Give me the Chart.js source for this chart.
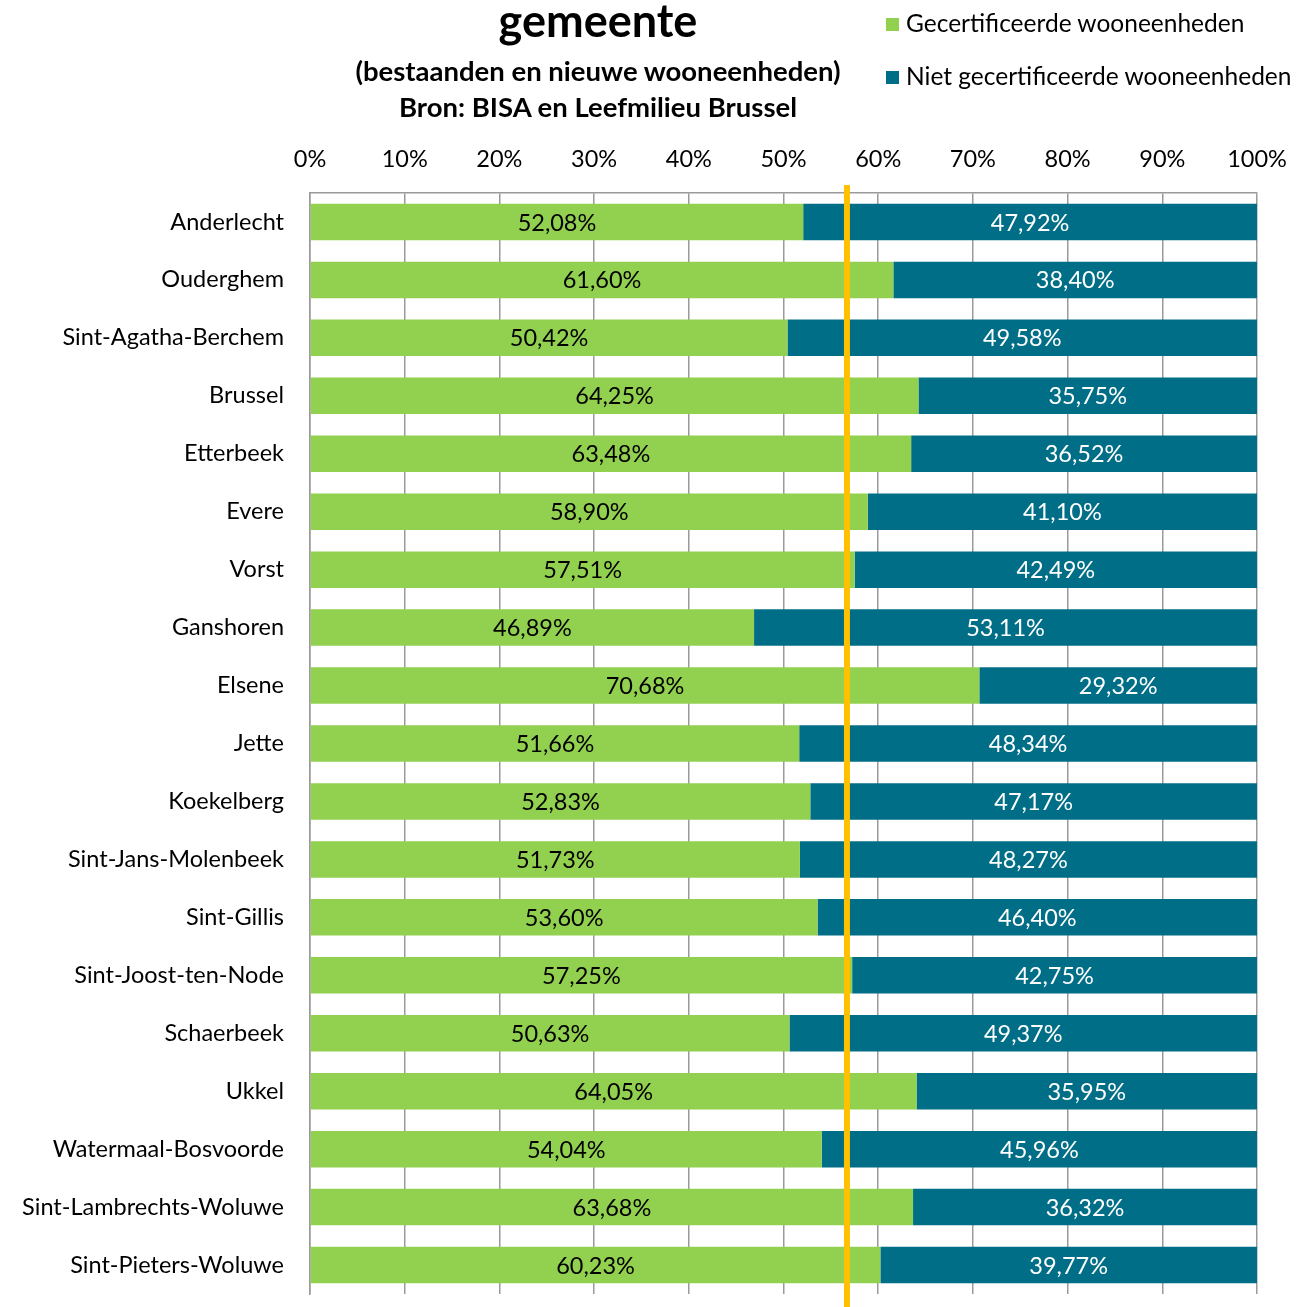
<!DOCTYPE html>
<html>
<head>
<meta charset="utf-8">
<script src="https://cdn.jsdelivr.net/npm/chart.js@4/dist/chart.umd.min.js"></script>
<style>
  html, body { margin: 0; padding: 0; background: #fff; }
  #wrap { position: relative; width: 1299px; height: 1307px; overflow: hidden; font-family: Lato, sans-serif; }
  #myChart { position: absolute; left: 0; top: 0; }
  .title { position: absolute; left: 598px; transform: translateX(-50%); white-space: nowrap; font-weight: bold; color: #000; text-align: center; line-height: 1.2; }
  #legend { position: absolute; left: 886px; top: 8px; font-size: 24.5px; color: #000; line-height: 1.2; }
  .leg-item { position: relative; height: 53px; white-space: nowrap; }
  .leg-box { display: inline-block; width: 13px; height: 13px; margin-right: 7px; vertical-align: 1px; }
</style>
</head>
<body>
<div id="wrap">
  <canvas id="myChart" width="1299" height="1307"></canvas>
  <div class="title" style="top:-7px;font-size:45px;">gemeente</div>
  <div class="title" style="top:54px;font-size:27.5px;">(bestaanden en nieuwe wooneenheden)</div>
  <div class="title" style="top:90px;font-size:27.5px;">Bron: BISA en Leefmilieu Brussel</div>
  <div id="legend"></div>
</div>
<script>
//the data
const communes = [
    'Anderlecht', 'Ouderghem', 'Sint-Agatha-Berchem', 'Brussel', 'Etterbeek',
    'Evere', 'Vorst', 'Ganshoren', 'Elsene', 'Jette', 'Koekelberg',
    'Sint-Jans-Molenbeek', 'Sint-Gillis', 'Sint-Joost-ten-Node', 'Schaerbeek',
    'Ukkel', 'Watermaal-Bosvoorde', 'Sint-Lambrechts-Woluwe', 'Sint-Pieters-Woluwe'
]
const certified = [52.08, 61.60, 50.42, 64.25, 63.48, 58.90, 57.51, 46.89, 70.68, 51.66,
    52.83, 51.73, 53.60, 57.25, 50.63, 64.05, 54.04, 63.68, 60.23]
const notCertified = [47.92, 38.40, 49.58, 35.75, 36.52, 41.10, 42.49, 53.11, 29.32, 48.34,
    47.17, 48.27, 46.40, 42.75, 49.37, 35.95, 45.96, 36.32, 39.77]
const seriesNames = ['Gecertificeerde wooneenheden', 'Niet gecertificeerde wooneenheden']
const seriesColors = ['#92D050', '#006E86']
const labelColors = ['#000000', '#FFFFFF']
const xTicks = [0, 10, 20, 30, 40, 50, 60, 70, 80, 90, 100]
const averageLine = 56.7

const ctx = document.getElementById('myChart').getContext('2d')
const fontFamily = 'Lato, sans-serif'
const fontSize = 23.5

// legend
const legend = document.getElementById('legend')
seriesNames.forEach((name, i) => {
    const item = document.createElement('div')
    item.className = 'leg-item'
    item.innerHTML = '<span class="leg-box" style="background:' + seriesColors[i] + '"></span>' + name
    legend.appendChild(item)
})

// yellow average line + value labels inside the bars
const overlay = {
    id: 'overlay',
    afterDatasetsDraw(chart) {
        const c = chart.ctx
        const xs = chart.scales.x
        const px = xs.getPixelForValue(averageLine)
        c.save()
        c.strokeStyle = '#FFC000'
        c.lineWidth = 6
        c.beginPath()
        c.moveTo(px, chart.chartArea.top - 8)
        c.lineTo(px, chart.height)
        c.stroke()

        c.font = fontSize + 'px ' + fontFamily
        c.textAlign = 'center'
        c.textBaseline = 'middle'
        chart.data.datasets.forEach((ds, i) => {
            const meta = chart.getDatasetMeta(i)
            c.fillStyle = labelColors[i]
            meta.data.forEach((bar, j) => {
                const txt = ds.data[j].toFixed(2).replace('.', ',') + '%'
                c.fillText(txt, (bar.x + bar.base) / 2, bar.y + 1)
            })
        })
        c.restore()
    }
}

var chart = new Chart(ctx, {
    type: 'bar',
    data: {
        labels: communes,
        datasets: [
            { label: seriesNames[0], data: certified, backgroundColor: seriesColors[0] },
            { label: seriesNames[1], data: notCertified, backgroundColor: seriesColors[1] }
        ]
    },
    options: {
        indexAxis: 'y',
        responsive: false,
        animation: false,
        layout: { padding: { top: 120, right: 42, bottom: 13, left: 0 } },
        datasets: { bar: { barPercentage: 0.63, categoryPercentage: 1.0, borderWidth: 0 } },
        plugins: {
            legend: { display: false },
            tooltip: { enabled: false }
        },
        scales: {
            x: {
                position: 'top',
                stacked: true,
                min: 0,
                max: 100,
                afterBuildTicks: (scale) => { scale.ticks = xTicks.map(v => ({ value: v })) },
                afterFit: (scale) => {
                    scale.height = 73
                    scale.paddingLeft = 0
                    scale.paddingRight = 0
                },
                grid: { color: '#9A9A9A', lineWidth: 1.5, drawTicks: false },
                border: { color: '#9A9A9A', width: 1.5 },
                ticks: {
                    padding: 19,
                    color: '#000',
                    font: { family: fontFamily, size: fontSize },
                    callback: (v) => v + '%'
                }
            },
            y: {
                stacked: true,
                afterFit: (scale) => {
                    scale.width = 310
                    scale.paddingTop = 0
                    scale.paddingBottom = 0
                },
                grid: { display: false },
                border: { color: '#9A9A9A', width: 1.5 },
                ticks: {
                    padding: 18,
                    color: '#000',
                    font: { family: fontFamily, size: fontSize }
                }
            }
        }
    },
    plugins: [overlay]
})
</script>
</body>
</html>
